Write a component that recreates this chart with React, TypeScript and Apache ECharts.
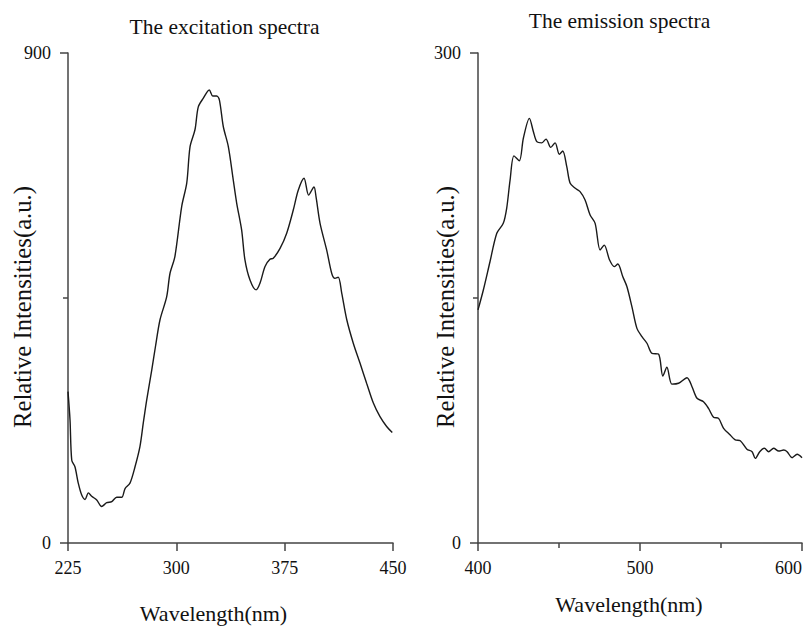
import React, { useEffect, useRef } from "react";
import * as echarts from "echarts";

// Excitation spectrum (wavelength nm, relative intensity)
const excitationWavelength = [
  225, 226.4, 227.6, 229.8, 232.1, 234.5, 236.8, 239.1, 241.4, 244.9, 248.3, 251.8, 255.3, 258.7, 262.2,
  264.5, 267.9, 271.4, 274.8, 277.1, 279.5, 283, 285.5, 288.7, 293.3, 295.6, 299, 303.7, 307.2, 309.5,
  312.9, 315.2, 318.7, 322.8, 325.2, 327.9, 329.8, 332.5, 336, 339.4, 341.8, 345.2, 347.5, 351, 355.2,
  357.9, 361.4, 364.8, 367.1, 371.8, 376.4, 381, 384.4, 388.4, 391.6, 395.3, 396.7, 399.5, 404.1, 407.6,
  409.8, 412.1, 414.5, 418, 422.5, 427.2, 431.8, 436.4, 441, 445.6, 449.5,
];
const excitationIntensity = [
  278, 226, 152, 140, 110, 88, 80, 92, 86, 79, 67, 74, 76, 84, 84,
  100, 110, 140, 177, 220, 263, 318, 360, 410, 452, 495, 526, 618, 661, 728,
  759, 801, 817, 832, 821, 821, 814, 765, 728, 667, 624, 575, 520, 483, 465,
  477, 508, 521, 523, 541, 569, 612, 648, 670, 639, 654, 636, 587, 538, 495,
  486, 488, 459, 410, 367, 330, 293, 257, 232, 214, 203,
];

// Emission spectrum (wavelength nm, relative intensity)
const emissionWavelength = [
  400, 403.3, 407.4, 411.6, 415.6, 417.7, 419.8, 422.2, 425.5, 428, 431.7, 434.2, 436.3, 439.4, 442,
  444.9, 447.6, 450.2, 452.3, 454.8, 456.9, 460, 463, 466.1, 469.2, 472.3, 475.4, 477.9, 481.2, 484.1,
  486.3, 489.4, 491.9, 495, 498.1, 501.2, 504.3, 507.4, 511.4, 514.1, 516.6, 519.7, 523.8, 529, 532.1,
  535.2, 539.2, 542.3, 545.4, 548.5, 551.6, 555.7, 558.8, 561.9, 566, 569.2, 571.2, 573.9, 576.8, 579.4,
  582.5, 585.6, 588.7, 590.8, 593.9, 597, 600,
];
const emissionIntensity = [
  142.7, 154.9, 172.2, 189.6, 195.7, 204.9, 222.2, 237, 234, 247.8, 260, 251.8, 245.7, 245, 247.3,
  242.2, 245, 238, 240, 230.4, 220.2, 217.2, 215.1, 210, 200.8, 195.7, 179.4, 182.4, 173.3, 169.2,
  170.8, 163, 157, 144.7, 131.4, 126.3, 122.3, 116.1, 115.7, 102.2, 107.6, 97.3, 97.8, 101.2, 95.7,
  88.6, 86.5, 82.4, 77, 76.3, 70.2, 66.1, 63.1, 62.6, 57.4, 55.9, 51.8, 55.9, 58, 55.9,
  58, 56.3, 56.9, 55.9, 52.2, 54.3, 52.2,
];

const excitationTitle = "The excitation spectra";
const emissionTitle = "The emission spectra";
const xName = "Wavelength(nm)";
const yName = "Relative Intensities(a.u.)";

const FONT = '"Liberation Serif", "Times New Roman", serif';
const TEXT = "#111";
const AXIS = "#444";

function pairs(xs: number[], ys: number[]) {
  return xs.map((x, i) => [x, ys[i]]);
}

export default function App() {
  const ref = useRef<HTMLDivElement>(null);
  useEffect(() => {
    document.body.style.margin = "0";
    if (!ref.current) return;
    const chart = echarts.init(ref.current, undefined, { renderer: "svg" });

    const axisCommon = {
      axisLine: { show: true, lineStyle: { color: AXIS, width: 1.5 } },
      axisTick: { show: true, length: 8, lineStyle: { color: AXIS, width: 1.5 } },
      minorTick: { show: true, splitNumber: 2, length: 5, lineStyle: { color: AXIS, width: 1.5 } },
      splitLine: { show: false },
      minorSplitLine: { show: false },
      axisLabel: { color: TEXT, fontFamily: FONT, fontSize: 18 },
      nameTextStyle: { color: TEXT, fontFamily: FONT, fontSize: 22 },
      nameLocation: "middle" as const,
      nameMoveOverlap: false,
    };

    chart.setOption({
      animation: false,
      backgroundColor: "#fff",
      grid: [
        { left: 68, top: 53, width: 325, height: 490, outerBoundsMode: "none" },
        { left: 478, top: 53, width: 324, height: 490, outerBoundsMode: "none" },
      ],
      xAxis: [
        {
          ...axisCommon,
          gridIndex: 0,
          type: "value",
          min: 225,
          max: 450,
          interval: 75,
          minorTick: { show: false },
          name: xName,
          nameGap: 59,
          nameTextStyle: { ...axisCommon.nameTextStyle, padding: [0, 34, 0, 0] },
          axisLabel: { ...axisCommon.axisLabel, margin: 16 },
        },
        {
          ...axisCommon,
          gridIndex: 1,
          type: "value",
          min: 400,
          max: 600,
          interval: 100,
          name: xName,
          nameGap: 50,
          nameTextStyle: { ...axisCommon.nameTextStyle, padding: [0, 22, 0, 0] },
          axisLabel: { ...axisCommon.axisLabel, margin: 16, alignMaxLabel: "right" },
        },
      ],
      yAxis: [
        {
          ...axisCommon,
          gridIndex: 0,
          type: "value",
          min: 0,
          max: 900,
          interval: 900,
          name: yName,
          nameGap: 33,
          nameTextStyle: { ...axisCommon.nameTextStyle, fontSize: 24.7, padding: [0, 18, 0, 0] },
          axisLabel: { ...axisCommon.axisLabel, margin: 17 },
        },
        {
          ...axisCommon,
          gridIndex: 1,
          type: "value",
          min: 0,
          max: 300,
          interval: 300,
          name: yName,
          nameGap: 20,
          nameTextStyle: { ...axisCommon.nameTextStyle, fontSize: 24.7, padding: [0, 18, 0, 0] },
          axisLabel: { ...axisCommon.axisLabel, margin: 17 },
        },
      ],
      graphic: [
        {
          type: "text",
          x: 224.5,
          y: 27,
          style: { text: excitationTitle, fill: TEXT, font: `21.5px ${FONT}`, textAlign: "center", textVerticalAlign: "middle" },
        },
        {
          type: "text",
          x: 619.5,
          y: 21,
          style: { text: emissionTitle, fill: TEXT, font: `21.5px ${FONT}`, textAlign: "center", textVerticalAlign: "middle" },
        },
      ],
      series: [
        {
          type: "line",
          xAxisIndex: 0,
          yAxisIndex: 0,
          data: pairs(excitationWavelength, excitationIntensity),
          showSymbol: false,
          smooth: 0.3,
          lineStyle: { color: "#1a1a1a", width: 1.4 },
        },
        {
          type: "line",
          xAxisIndex: 1,
          yAxisIndex: 1,
          data: pairs(emissionWavelength, emissionIntensity),
          showSymbol: false,
          smooth: 0.3,
          lineStyle: { color: "#1a1a1a", width: 1.4 },
        },
      ],
    });
    return () => chart.dispose();
  }, []);
  return <div ref={ref} style={{ width: 809, height: 626 }} />;
}
